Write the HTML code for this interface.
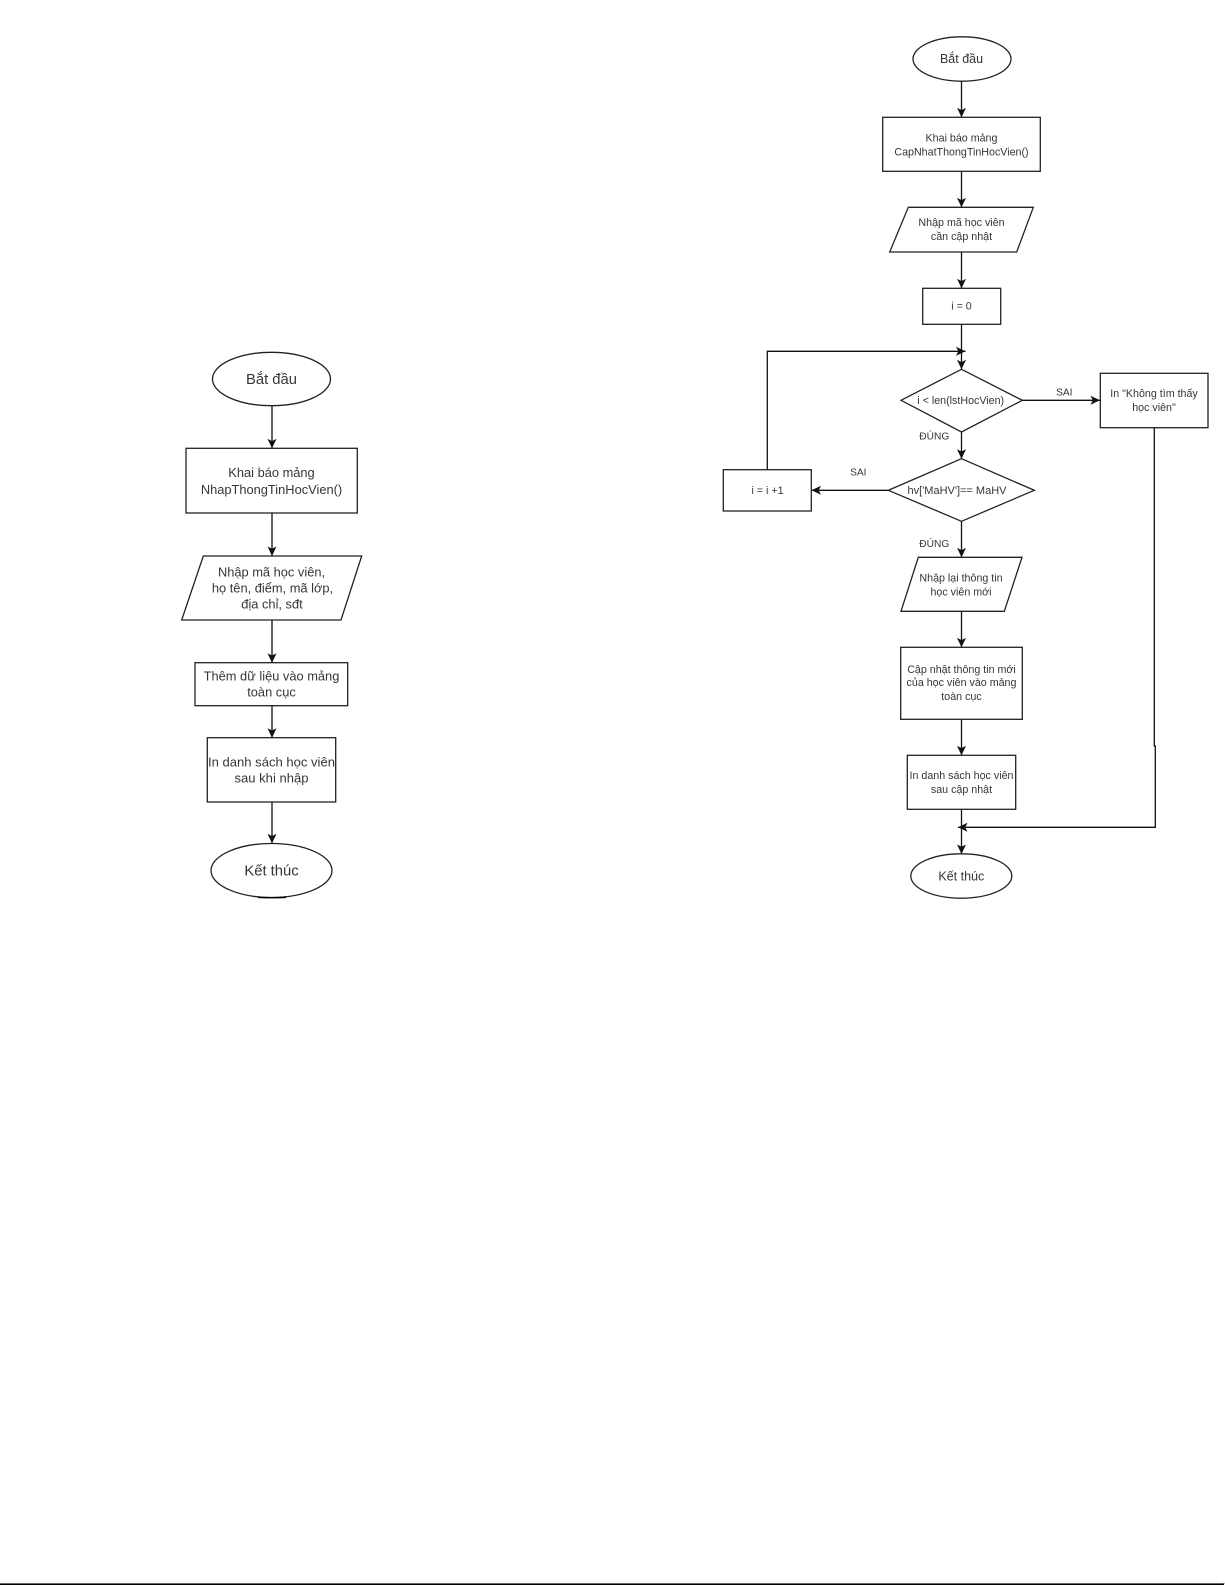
<!DOCTYPE html>
<html>
<head>
<meta charset="utf-8">
<style>
html,body{margin:0;padding:0;background:#fff;width:1225px;height:1585px;overflow:hidden}
svg{display:block}
text{font-family:"Liberation Sans",Arial,sans-serif;fill:#363636;text-anchor:middle}
.l{font-size:12.85px}
.lt{font-size:14.8px}
.r{font-size:10.7px}
.rt{font-size:12.5px}
.lab{font-size:10.2px}
.s{fill:#fff;stroke:#222;stroke-width:1.3}
.c{fill:none;stroke:#111;stroke-width:1.3}
</style>
</head>
<body>
<svg width="1225" height="1585" viewBox="0 0 1225 1585" xmlns="http://www.w3.org/2000/svg">
<defs>
<marker id="a" markerUnits="userSpaceOnUse" markerWidth="11" markerHeight="11" refX="9.5" refY="5" orient="auto"><path d="M0,0.5 L9.5,5 L0,9.5 L2.3,5z" fill="#111"/></marker>
</defs>

<!-- LEFT FLOW connectors -->
<path class="c" marker-end="url(#a)" d="M272 405.7V448.3"/>
<path class="c" marker-end="url(#a)" d="M272 513V556"/>
<path class="c" marker-end="url(#a)" d="M272 620V662.7"/>
<path class="c" marker-end="url(#a)" d="M272 705.7V737.7"/>
<path class="c" marker-end="url(#a)" d="M272 802V843.3"/>

<!-- LEFT FLOW shapes -->
<ellipse class="s" cx="271.5" cy="379" rx="59" ry="26.7"/>
<text class="lt" x="271.5" y="384">Bắt đầu</text>

<rect class="s" x="186" y="448.3" width="171.3" height="64.7"/>
<text class="l" x="271.5" y="477">Khai báo mảng</text>
<text class="l" x="271.5" y="494">NhapThongTinHocVien()</text>

<polygon class="s" points="203.3,556 361.7,556 341,620 181.7,620"/>
<text class="l" x="271.5" y="576.7">Nhập mã học viên,</text>
<text class="l" x="272.5" y="592.7">họ tên, điểm, mã lớp,</text>
<text class="l" x="272" y="608.4">địa chỉ, sđt</text>

<rect class="s" x="195" y="662.7" width="152.7" height="43"/>
<text class="l" x="271.5" y="680.5">Thêm dữ liệu vào mảng</text>
<text class="l" x="271.5" y="696.5">toàn cục</text>

<rect class="s" x="207.3" y="737.7" width="128.4" height="64.3"/>
<text class="l" x="271.5" y="766.5" style="font-size:13.05px">In danh sách học viên</text>
<text class="l" x="271.5" y="782.5" style="font-size:13.05px">sau khi nhập</text>

<ellipse class="s" cx="271.5" cy="870.5" rx="60.5" ry="27"/>
<text class="lt" x="271.5" y="875.5">Kết thúc</text>
<path d="M258 897.3Q271 898.4 286 897.3" fill="none" stroke="#000" stroke-width="1.6"/>
<rect x="200" y="898.4" width="140" height="4" fill="#fff"/>

<!-- RIGHT FLOW connectors -->
<path class="c" marker-end="url(#a)" d="M961.5 81V117.3"/>
<path class="c" marker-end="url(#a)" d="M961.5 171.3V207.3"/>
<path class="c" marker-end="url(#a)" d="M961.5 252V288.3"/>
<path class="c" marker-end="url(#a)" d="M961.5 324.3V369.3"/>
<path class="c" marker-end="url(#a)" d="M767.3 469.7V351.3H965.5"/>
<path class="c" marker-end="url(#a)" d="M1022.3 400.3H1100"/>
<path class="c" marker-end="url(#a)" d="M961.5 432V458.7"/>
<path class="c" marker-end="url(#a)" d="M888.3 490.3H811.5"/>
<path class="c" marker-end="url(#a)" d="M961.5 521.3V557.3"/>
<path class="c" marker-end="url(#a)" d="M961.5 611.3V647.3"/>
<path class="c" marker-end="url(#a)" d="M961.5 719.3V755.3"/>
<path class="c" marker-end="url(#a)" d="M961.5 809.3V854"/>
<path class="c" marker-end="url(#a)" d="M1154.3 427.7V746H1155.3V827.3H958"/>

<!-- RIGHT FLOW shapes -->
<ellipse class="s" cx="962" cy="59" rx="49" ry="22.2"/>
<text class="rt" x="961.5" y="63">Bắt đầu</text>

<rect class="s" x="882.7" y="117.3" width="157.6" height="54"/>
<text class="r" x="961.5" y="141.5">Khai báo mảng</text>
<text class="r" x="961.5" y="155.5">CapNhatThongTinHocVien()</text>

<polygon class="s" points="908.3,207.3 1033.3,207.3 1016.7,252 889.7,252"/>
<text class="r" x="961.5" y="226">Nhập mã học viên</text>
<text class="r" x="961.5" y="240">cần cập nhật</text>

<rect class="s" x="922.7" y="288.3" width="78" height="36"/>
<text class="r" x="961.5" y="309.5">i = 0</text>

<polygon class="s" points="901,400.3 961.5,369.3 1022.3,400.3 961.5,432"/>
<text class="r" x="960.7" y="403.8">i &lt; len(lstHocVien)</text>

<rect class="s" x="1100.3" y="373.3" width="107.7" height="54.4"/>
<text class="r" x="1154" y="397">In "Không tìm thấy</text>
<text class="r" x="1154" y="411">học viên"</text>

<polygon class="s" points="888.3,490.3 961.5,458.7 1034.3,490.3 961.5,521.3"/>
<text class="r" x="957" y="494" style="font-size:11px">hv['MaHV']== MaHV</text>

<rect class="s" x="723.3" y="469.7" width="88" height="41.3"/>
<text class="r" x="767.5" y="494">i = i +1</text>

<polygon class="s" points="918.3,557.3 1022,557.3 1004.3,611.3 901,611.3"/>
<text class="r" x="961" y="581.5">Nhập lại thông tin</text>
<text class="r" x="961" y="595.5">học viên mới</text>

<rect class="s" x="900.7" y="647.3" width="121.6" height="72"/>
<text class="r" x="961.5" y="673">Cập nhật thông tin mới</text>
<text class="r" x="961.5" y="686">của học viên vào mảng</text>
<text class="r" x="961.5" y="700">toàn cục</text>

<rect class="s" x="907.3" y="755.3" width="108.4" height="54"/>
<text class="r" x="961.5" y="779">In danh sách học viên</text>
<text class="r" x="961.5" y="793">sau cập nhật</text>

<ellipse class="s" cx="961.3" cy="876" rx="50.5" ry="22.2"/>
<text class="rt" x="961.3" y="880.5">Kết thúc</text>

<!-- connector labels -->
<text class="lab" x="1064.3" y="395.5">SAI</text>
<text class="lab" x="934.3" y="439.7">ĐÚNG</text>
<text class="lab" x="858.3" y="475.5">SAI</text>
<text class="lab" x="934.3" y="547">ĐÚNG</text>

<!-- bottom rule -->
<rect x="0" y="1583.4" width="1224" height="1.6" fill="#000"/>
<rect x="1223.5" y="1582.8" width="1" height="1" fill="#555"/>
</svg>
</body>
</html>
